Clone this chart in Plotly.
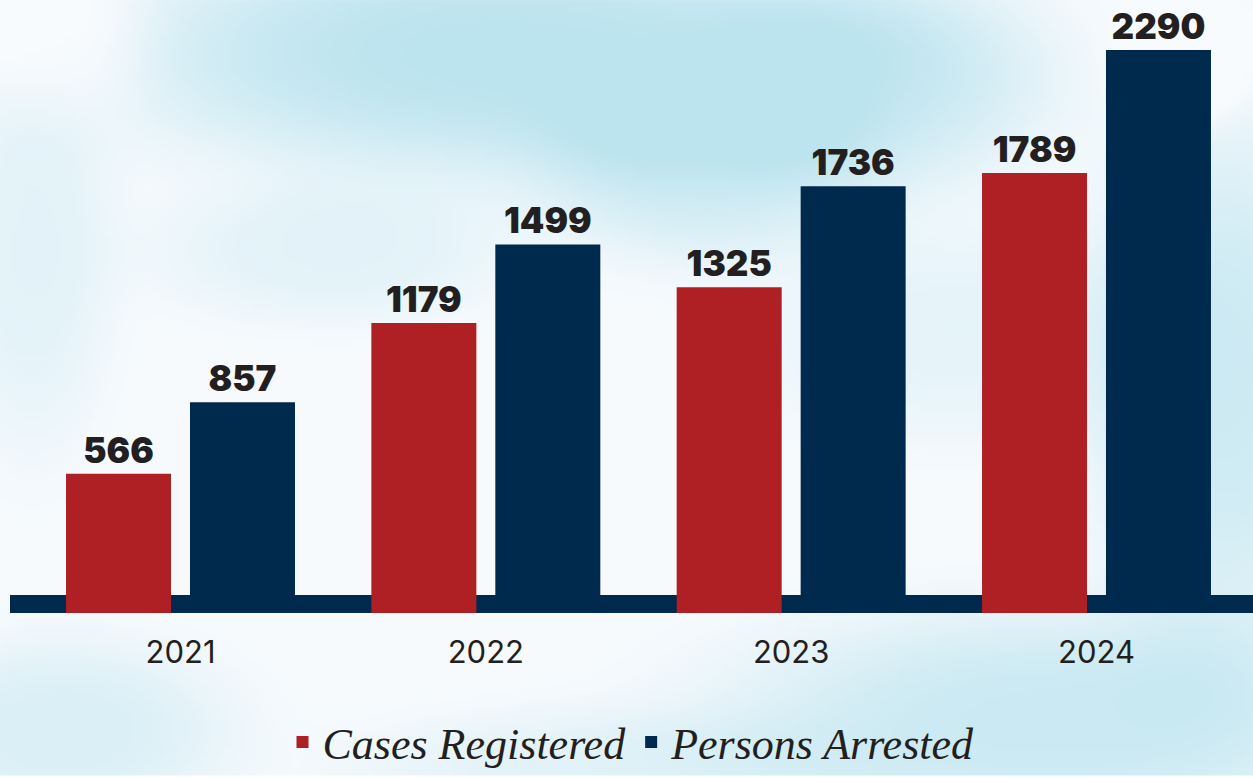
import base64, struct, zlib
import numpy as np
import plotly.graph_objects as go

# ---------------- data ----------------
years = ["2021", "2022", "2023", "2024"]
cases_registered = [566, 1179, 1325, 1789]
persons_arrested = [857, 1499, 1736, 2290]

RED = "#ae2024"
NAVY = "#002a4d"
TEXT = "#231f20"

W, H = 1253, 778
L, R, T, B = 10, 0, 22, 163
plot_w = W - L - R
plot_h = H - T - B
BASE_PX = H - B  # pixel row of the value axis zero


# ---------------- background sky texture (decorative) ----------------
def make_png(rgb):
    h, w, _ = rgb.shape
    raw = b"".join(b"\x00" + rgb[y].tobytes() for y in range(h))

    def chunk(tag, data):
        c = struct.pack(">I", len(data)) + tag + data
        return c + struct.pack(">I", zlib.crc32(tag + data) & 0xFFFFFFFF)

    png = b"\x89PNG\r\n\x1a\n"
    png += chunk(b"IHDR", struct.pack(">IIBBBBB", w, h, 8, 2, 0, 0, 0))
    png += chunk(b"IDAT", zlib.compress(raw, 9))
    png += chunk(b"IEND", b"")
    return "data:image/png;base64," + base64.b64encode(png).decode()


gw, gh = 251, 156
yy, xx = np.mgrid[0:gh, 0:gw]
px = xx * (W / gw)
py = yy * (H / gh)
a = np.zeros((gh, gw))


def blob(cx, cy, sx, sy, s):
    global a
    a = a + s * np.exp(-(((px - cx) / sx) ** 2 + ((py - cy) / sy) ** 2) ** 1.5)


blob(500, 50, 380, 120, 1.0)
blob(700, 170, 160, 90, 0.6)
blob(880, 80, 170, 110, 0.6)
blob(1220, 380, 130, 260, 0.7)
blob(1050, 720, 330, 110, 0.75)
blob(600, 770, 250, 60, 0.35)
blob(60, 730, 170, 90, 0.5)
blob(330, 250, 180, 70, 0.35)
blob(950, 330, 200, 110, 0.3)
blob(30, 250, 80, 200, 0.35)
blob(1180, 60, 60, 60, -0.6)
blob(60, 40, 90, 80, -0.3)
a = np.clip(a, 0, 1)
blue = np.array([188, 228, 239], dtype=float)
white = np.array([248, 251, 254], dtype=float)
img = white[None, None, :] * (1 - a[..., None]) + blue[None, None, :] * a[..., None]
bg_src = make_png(np.clip(img, 0, 255).astype(np.uint8))

# ---------------- figure ----------------
label_font = dict(family="Inter, Roboto, sans-serif", size=35, color=TEXT, weight=900)

fig = go.Figure()
fig.add_trace(go.Bar(
    name="Cases Registered", x=years, y=cases_registered,
    marker=dict(color=RED, line=dict(width=0)),
    text=[str(v) for v in cases_registered], textposition="outside",
    textfont=label_font, cliponaxis=False,
))
fig.add_trace(go.Bar(
    name="Persons Arrested", x=years, y=persons_arrested,
    marker=dict(color=NAVY, line=dict(width=0)),
    text=[str(v) for v in persons_arrested], textposition="outside",
    textfont=label_font, cliponaxis=False,
))

# baseline band
fig.add_shape(type="rect", xref="paper", yref="paper",
              x0=0, x1=1, y0=0, y1=18 / plot_h,
              fillcolor=NAVY, line=dict(width=0), layer="below")

fig.add_layout_image(dict(
    source=bg_src, xref="paper", yref="paper",
    x=-L / plot_w, y=(plot_h + T) / plot_h,
    sizex=W / plot_w, sizey=H / plot_h,
    xanchor="left", yanchor="top", sizing="stretch", layer="below", opacity=1,
))

spacing = 305.33
fig.update_layout(
    width=W, height=H,
    margin=dict(l=L, r=R, t=T, b=B),
    paper_bgcolor="white", plot_bgcolor="rgba(0,0,0,0)",
    barmode="group", bargap=0.188, bargroupgap=0.153,
    showlegend=True,
    legend=dict(
        orientation="h", x=0.5, xanchor="center",
        y=(BASE_PX - 745) / plot_h, yanchor="middle",
        font=dict(family="Liberation Serif, serif", size=44, color=TEXT, style="italic"),
        bgcolor="rgba(0,0,0,0)", itemwidth=30, traceorder="normal",
    ),
    xaxis=dict(
        type="category", range=[-(180.5 - L) / spacing, 3 + (W - 1096.5) / spacing],
        showgrid=False, zeroline=False, showline=False,
        ticks="outside", ticklen=12, tickcolor="rgba(0,0,0,0)",
        tickfont=dict(family="Inter, Roboto, sans-serif", size=31, color=TEXT),
    ),
    yaxis=dict(
        range=[0, 2290 / ((BASE_PX - 50) / plot_h)],
        showgrid=False, zeroline=False, showline=False, showticklabels=False,
    ),
)

fig.write_html(
    "out.html",
    config={"displayModeBar": False},
    post_script="document.body.style.margin='0';document.body.style.padding='0';"
                "window.dispatchEvent(new Event('resize'));",
)
